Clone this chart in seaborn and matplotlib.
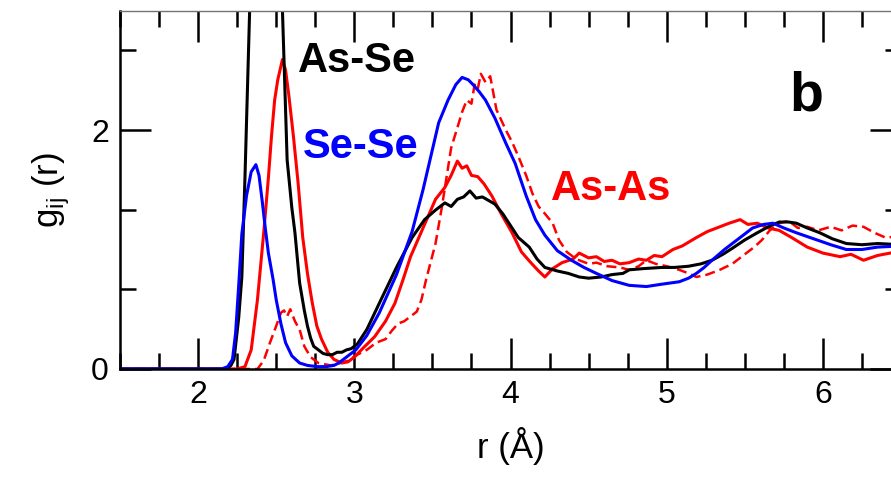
import matplotlib
matplotlib.use("Agg")
import matplotlib.pyplot as plt
from matplotlib.ticker import FixedLocator, MultipleLocator
import seaborn as sns

# As-Se partial g(r) (black)
r_asse = [1.5, 2.15, 2.19, 2.21, 2.23, 2.26, 2.28, 2.30, 2.33, 2.37, 2.42, 2.47, 2.51, 2.54,
          2.57, 2.60, 2.62, 2.65, 2.68, 2.70, 2.72, 2.74, 2.77, 2.80, 2.83, 2.86, 2.89, 2.92,
          2.95, 2.98, 3.02, 3.08, 3.16, 3.27, 3.37, 3.45, 3.52, 3.58, 3.62, 3.66, 3.70,
          3.74, 3.78, 3.82, 3.86, 3.90, 3.95, 4.00, 4.05, 4.12, 4.17, 4.22, 4.30, 4.37, 4.44,
          4.50, 4.58, 4.65, 4.72, 4.76, 4.85, 4.97, 5.05, 5.14, 5.22, 5.29, 5.36, 5.42, 5.50,
          5.58, 5.65, 5.72, 5.78, 5.83, 5.90, 5.98, 6.06, 6.15, 6.25, 6.35, 6.50]
g_asse = [0, 0, 0.01, 0.03, 0.08, 0.43, 0.77, 1.6, 3.0, 4.8, 6.0, 5.6, 4.2, 3.0,
          1.75, 1.35, 1.14, 0.72, 0.49, 0.36, 0.26, 0.19, 0.16, 0.13, 0.12, 0.12, 0.14, 0.14,
          0.16, 0.17, 0.21, 0.33, 0.55, 0.85, 1.10, 1.25, 1.33, 1.39, 1.36, 1.42, 1.44,
          1.49, 1.43, 1.44, 1.41, 1.38, 1.30, 1.20, 1.10, 1.02, 0.92, 0.85, 0.82, 0.80, 0.77,
          0.76, 0.77, 0.79, 0.80, 0.83, 0.84, 0.85, 0.85, 0.86, 0.88, 0.91, 0.96, 1.01, 1.08,
          1.14, 1.19, 1.23, 1.23, 1.22, 1.18, 1.14, 1.09, 1.05, 1.04, 1.05, 1.04]

# Se-Se partial g(r) (blue)
r_sese = [1.5, 2.15, 2.19, 2.22, 2.24, 2.26, 2.28, 2.31, 2.34, 2.37, 2.39, 2.41, 2.43, 2.45,
          2.48, 2.50, 2.53, 2.56, 2.60, 2.65, 2.70, 2.76, 2.82, 2.87, 2.90, 2.95, 3.01, 3.08,
          3.16, 3.27, 3.37, 3.44, 3.49, 3.54, 3.60, 3.65, 3.69, 3.73, 3.76, 3.80, 3.84,
          3.90, 3.97, 4.03, 4.10, 4.16, 4.22, 4.30, 4.39, 4.47, 4.55, 4.65, 4.76, 4.87, 4.97,
          5.08, 5.14, 5.19, 5.24, 5.29, 5.37, 5.45, 5.55, 5.62, 5.68, 5.75, 5.83, 5.94, 6.05,
          6.15, 6.25, 6.35, 6.50]
g_sese = [0, 0, 0.02, 0.08, 0.30, 0.70, 1.13, 1.45, 1.65, 1.71, 1.62, 1.41, 1.18, 0.97,
          0.75, 0.58, 0.38, 0.22, 0.11, 0.05, 0.03, 0.02, 0.02, 0.03, 0.05, 0.10, 0.16, 0.28,
          0.47, 0.79, 1.15, 1.50, 1.78, 2.06, 2.25, 2.38, 2.44, 2.42, 2.38, 2.32, 2.25,
          2.10, 1.89, 1.72, 1.45, 1.25, 1.12, 0.99, 0.91, 0.85, 0.80, 0.74, 0.70, 0.69, 0.71,
          0.73, 0.76, 0.80, 0.85, 0.91, 1.00, 1.08, 1.18, 1.21, 1.22, 1.18, 1.14, 1.09, 1.04,
          1.00, 1.00, 1.02, 1.03]

# As-As partial g(r) (red, solid)
r_asas = [1.5, 2.25, 2.30, 2.34, 2.38, 2.42, 2.45, 2.47, 2.49, 2.51, 2.54, 2.56, 2.58, 2.61,
          2.64, 2.67, 2.70, 2.73, 2.76, 2.79, 2.83, 2.87, 2.92, 2.96, 3.00, 3.06, 3.13, 3.20,
          3.26, 3.31, 3.36, 3.42, 3.47, 3.52, 3.58, 3.62, 3.66, 3.69, 3.72, 3.75, 3.79, 3.83,
          3.88, 3.94, 4.01, 4.07, 4.13, 4.18, 4.22, 4.27, 4.33, 4.40, 4.44, 4.50, 4.55, 4.60,
          4.65, 4.70, 4.76, 4.82, 4.87, 4.92, 4.97, 5.04, 5.10, 5.19, 5.26, 5.34, 5.40, 5.47,
          5.52, 5.58, 5.65, 5.72, 5.80, 5.90, 6.00, 6.11, 6.18, 6.26, 6.35, 6.43, 6.50]
g_asas = [0, 0, 0.02, 0.16, 0.58, 1.14, 1.60, 1.95, 2.25, 2.42, 2.59, 2.50, 2.30, 1.95,
          1.56, 1.10, 0.80, 0.56, 0.36, 0.25, 0.14, 0.08, 0.05, 0.06, 0.10, 0.18, 0.27, 0.40,
          0.55, 0.74, 0.94, 1.12, 1.27, 1.42, 1.52, 1.62, 1.74, 1.68, 1.70, 1.62, 1.61, 1.55,
          1.45, 1.30, 1.14, 0.98, 0.89, 0.82, 0.77, 0.84, 0.89, 0.92, 0.97, 0.93, 0.94, 0.90,
          0.91, 0.88, 0.89, 0.92, 0.91, 0.95, 0.94, 1.00, 1.03, 1.10, 1.15, 1.19, 1.22, 1.25,
          1.21, 1.22, 1.18, 1.16, 1.10, 1.02, 0.97, 0.94, 0.96, 0.91, 0.95, 0.97, 0.98]

# As-As partial g(r), second model (red, dashed)
r_asas2 = [1.5, 2.38, 2.42, 2.46, 2.50, 2.53, 2.55, 2.57, 2.59, 2.62, 2.65, 2.68, 2.72, 2.77,
           2.85, 2.91, 2.96, 3.02, 3.08, 3.14, 3.20, 3.24, 3.28, 3.32, 3.36, 3.40, 3.43, 3.46,
           3.49, 3.52, 3.56, 3.59, 3.62, 3.66, 3.69, 3.72, 3.75, 3.77, 3.79, 3.81, 3.84, 3.87,
           3.91, 3.97, 4.01, 4.05, 4.10, 4.14, 4.18, 4.22, 4.27, 4.31, 4.36, 4.42, 4.50, 4.55,
           4.62, 4.70, 4.76, 4.82, 4.87, 4.93, 5.00, 5.08, 5.14, 5.19, 5.26, 5.34, 5.42, 5.51,
           5.56, 5.61, 5.66, 5.72, 5.78, 5.84, 5.90, 5.97, 6.05, 6.12, 6.19, 6.26, 6.33, 6.40,
           6.50]
g_asas2 = [0, 0, 0.07, 0.22, 0.36, 0.47, 0.49, 0.44, 0.50, 0.40, 0.33, 0.19, 0.10, 0.05,
           0.03, 0.05, 0.07, 0.12, 0.16, 0.22, 0.25, 0.32, 0.38, 0.40, 0.44, 0.48, 0.58, 0.75,
           0.90, 1.05, 1.35, 1.60, 1.85, 2.02, 2.15, 2.25, 2.22, 2.38, 2.34, 2.47, 2.40, 2.45,
           2.17, 2.00, 1.90, 1.78, 1.62, 1.47, 1.36, 1.30, 1.22, 1.08, 0.98, 0.92, 0.88, 0.89,
           0.86, 0.85, 0.83, 0.86, 0.91, 0.88, 0.86, 0.83, 0.80, 0.77, 0.79, 0.83, 0.88, 0.97,
           1.02, 1.08, 1.16, 1.22, 1.24, 1.18, 1.19, 1.16, 1.19, 1.16, 1.20, 1.19, 1.14, 1.10,
           1.11]

sns.set_theme(style="ticks")
plt.rcParams["font.family"] = ["Liberation Sans", "DejaVu Sans"]
plt.rcParams["mathtext.fontset"] = "custom"
plt.rcParams["mathtext.rm"] = "Liberation Sans"
plt.rcParams["text.color"] = "black"
plt.rcParams["axes.labelcolor"] = "black"
plt.rcParams["xtick.color"] = "black"
plt.rcParams["ytick.color"] = "black"

fig = plt.figure(figsize=(8.91, 4.91), dpi=100)
ax = fig.add_axes([120 / 891, 122 / 491, 781 / 891, 358.5 / 491])

lw = 2.2
sns.lineplot(x=r_asas2, y=g_asas2, ax=ax, color="#ff0000", lw=1.8, linestyle=(0, (4, 2)))
sns.lineplot(x=r_asas, y=g_asas, ax=ax, color="#ff0000", lw=lw)
sns.lineplot(x=r_asse, y=g_asse, ax=ax, color="black", lw=lw)
sns.lineplot(x=r_sese, y=g_sese, ax=ax, color="#0000ff", lw=lw)

ax.set_xlim(1.5, 6.5)
ax.set_ylim(0, 3)
ax.xaxis.set_major_locator(FixedLocator([2, 3, 4, 5, 6]))
ax.xaxis.set_minor_locator(MultipleLocator(0.25))
ax.yaxis.set_major_locator(FixedLocator([0, 2]))
ax.yaxis.set_minor_locator(FixedLocator([2 / 3, 4 / 3, 8 / 3]))

ax.tick_params(which="both", direction="in", top=True, right=True, width=1.8,
               color="black", labelcolor="black")
ax.tick_params(which="major", length=22, labelsize=23, pad=8)
ax.tick_params(which="minor", length=11.5)

for side in ["left", "bottom"]:
    ax.spines[side].set_linewidth(1.8)
    ax.spines[side].set_color("black")
ax.spines["top"].set_linewidth(1.0)
ax.spines["top"].set_color("0.45")
ax.spines["right"].set_visible(False)

ax.set_xlabel("r (Å)", fontsize=25, labelpad=12, color="black")
ax.set_ylabel(r"g$_{\rm ij}$ (r)", fontsize=25, labelpad=14, color="black")

ax.text(2.637, 2.485, "As-Se", color="black", fontsize=30, fontweight="bold", va="baseline")
ax.text(2.669, 1.766, "Se-Se", color="#0000ff", fontsize=30, fontweight="bold", va="baseline")
ax.text(4.257, 1.414, "As-As", color="#ff0000", fontsize=30, fontweight="bold", va="baseline")
ax.text(5.788, 2.159, "b", color="black", fontsize=40, fontweight="bold", va="baseline")

fig.savefig("out.png", dpi=100)
